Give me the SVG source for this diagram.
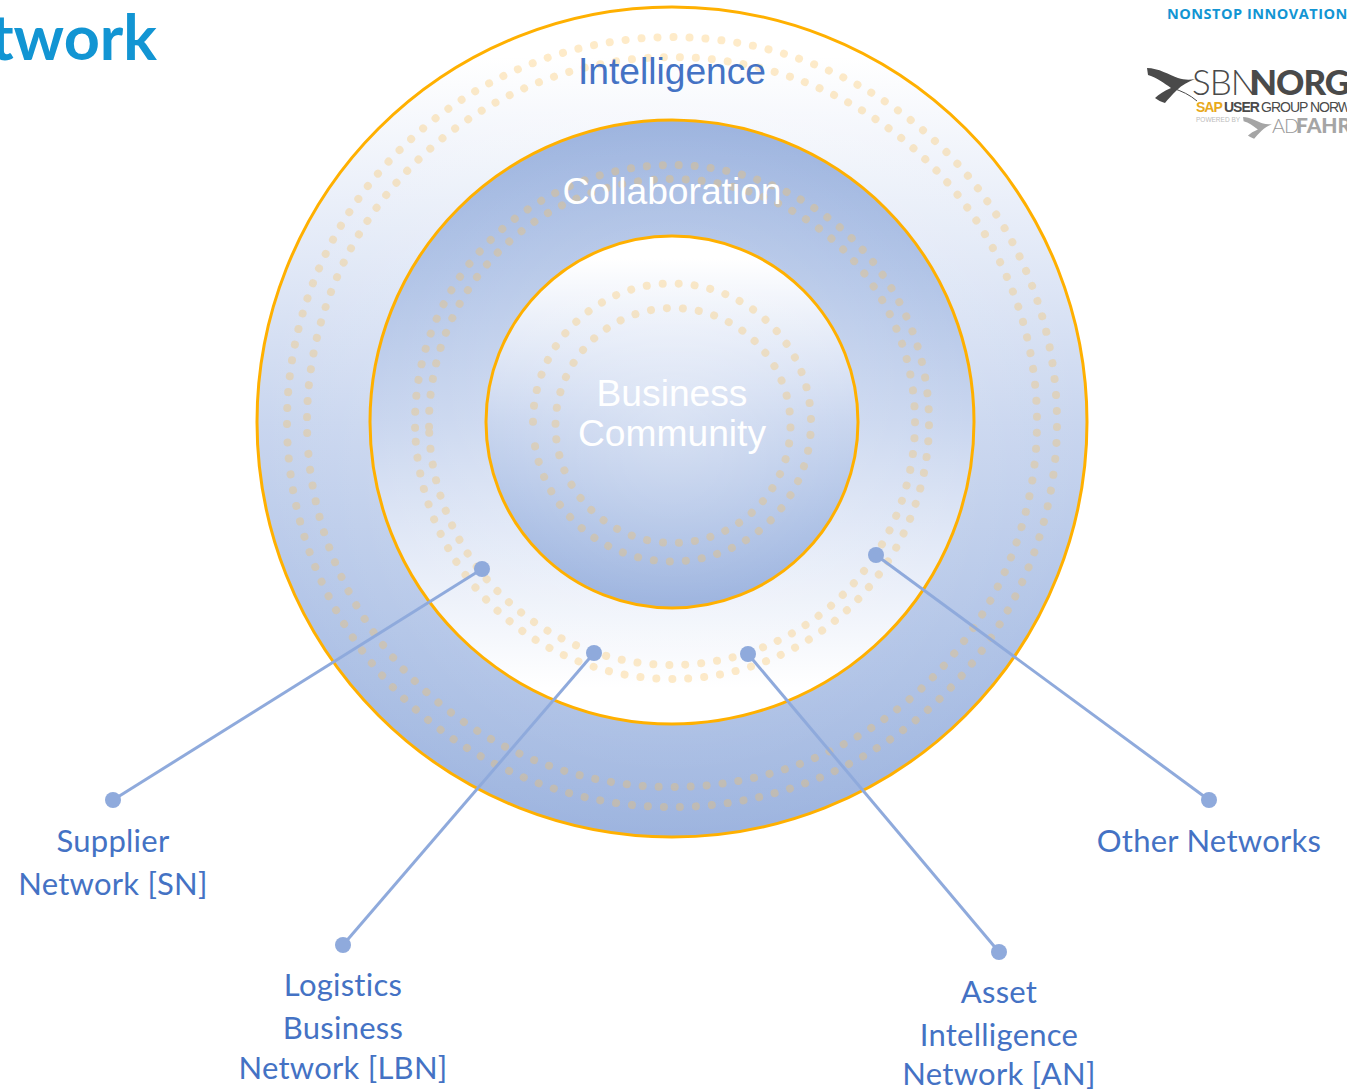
<svg xmlns="http://www.w3.org/2000/svg" xmlns:xlink="http://www.w3.org/1999/xlink" width="1347" height="1091" viewBox="0 0 1347 1091">
<style>
.ring{stroke:#ffb000;stroke-width:3}
.dots{fill:none;stroke:#fcc058;stroke-opacity:.32;stroke-width:8;stroke-linecap:round;stroke-dasharray:.01 15.99}
.conn{stroke:#8faadc;stroke-width:3;fill:none}
.pt{fill:#8faadc}
.lbl{font-family:Lato,"Liberation Sans",sans-serif;font-size:31px;fill:#4472c4;text-anchor:middle;letter-spacing:.25px}
.ar{font-family:"Liberation Sans",Arial,sans-serif;font-size:37.2px;text-anchor:middle}
.lt{font-family:Lato,sans-serif}
</style>
<defs>
<linearGradient id="down" x1="0" y1="0" x2="0" y2="1"><stop offset=".06" stop-color="#fff"/><stop offset=".3" stop-color="#e2e9f7"/><stop offset=".5" stop-color="#c9d6ef"/><stop offset=".75" stop-color="#b1c4e7"/><stop offset="1" stop-color="#9db4df"/></linearGradient>
<linearGradient id="up" x1="0" y1="1" x2="0" y2="0"><stop offset=".06" stop-color="#fff"/><stop offset=".3" stop-color="#e2e9f7"/><stop offset=".5" stop-color="#c9d6ef"/><stop offset=".75" stop-color="#b1c4e7"/><stop offset="1" stop-color="#9db4df"/></linearGradient>
<radialGradient id="glow"><stop offset="0" stop-color="#fff" stop-opacity=".3"/><stop offset="1" stop-color="#fff" stop-opacity="0"/></radialGradient>
<path id="swoosh" d="M1147 68C1158 68 1170 75 1178 78C1184 80 1190 80 1195 79C1188 82 1182 85 1177 90C1172 95 1168 99 1165 103C1161 102 1158 100 1155 98C1159 94 1164 91 1171 88C1164 83 1156 77 1148 75Z"/>
</defs>
<g id="title"><text x="157" y="60" class="lt" font-size="63" font-weight="700" fill="#1295d3" text-anchor="end">twork</text></g>
<g id="tagline"><text x="1167" y="19" font-family="Open Sans,sans-serif" font-size="14.5" font-weight="700" fill="#1295d3" letter-spacing=".5">NONSTOP INNOVATION</text></g>
<g id="logo">
<use xlink:href="#swoosh" href="#swoosh" fill="#4a4a4a"/>
<path d="M1172 88C1182 91 1190 95 1197 101" fill="none" stroke="#4a4a4a" stroke-width="1"/>
<text x="1192" y="95" class="lt" font-size="35" font-weight="300" fill="#4a4a4a" letter-spacing="-1">SBN</text>
<text x="1250" y="95" class="lt" font-size="35" font-weight="900" fill="#4a4a4a" letter-spacing="-1">NORG</text>
<text x="1196" y="112" font-family="Liberation Sans" font-size="14" font-weight="700" fill="#e8a91c" letter-spacing="-1">SAP</text>
<text x="1224" y="112" font-family="Liberation Sans" font-size="14" font-weight="700" fill="#4a4a4a" letter-spacing="-1">USER</text>
<text x="1261" y="112" font-family="Liberation Sans" font-size="14" fill="#4a4a4a" letter-spacing="-1">GROUP NORW</text>
<text x="1196" y="122" font-family="Liberation Sans" font-size="6.5" fill="#bbb">POWERED BY</text>
<use xlink:href="#swoosh" href="#swoosh" fill="#a5a5a5" transform="translate(1243 117) scale(.62) translate(-1147 -68)"/>
<text x="1272" y="133" class="lt" font-size="20" font-weight="300" fill="#999" letter-spacing="-1">AD</text>
<text x="1296" y="133" class="lt" font-size="21" font-weight="900" fill="#a5a5a5">FAHR</text>
</g>
<g id="outer-ring">
<circle cx="672" cy="422" r="415" fill="url(#down)"/>
<circle class="ring" cx="672" cy="422" r="415" fill="url(#glow)"/>
<path class="dots" d="M1057 422A385 385 0 1 1 1056.63 405.01" transform="rotate(179.7 672 422)"/>
<path class="dots" d="M1037 422A365 365 0 1 1 1036.49 402.64" transform="rotate(178.27 672 422)"/>
</g>
<g id="middle-ring">
<circle cx="672" cy="422" r="302" fill="url(#up)"/>
<circle class="ring" cx="672" cy="422" r="302" fill="url(#glow)"/>
<circle class="dots" cx="672" cy="422" r="257" transform="rotate(178.73 672 422)"/>
<circle class="dots" cx="672" cy="422" r="243" transform="rotate(178.9 672 422)"/>
</g>
<g id="inner-ring">
<circle cx="672" cy="422" r="186" fill="url(#down)"/>
<circle class="ring" cx="672" cy="422" r="186" fill="url(#glow)"/>
<path class="dots" d="M811 422.5A139 139 0 1 1 809.05 399.32" transform="rotate(180.33 672 422.5)"/>
<circle class="dots" cx="673" cy="425.5" r="117.5" style="stroke-dasharray:.01 16.04" transform="rotate(180.88 673 425.5)"/>
</g>
<g id="intelligence"><text class="ar" x="672" y="84" fill="#4472c4">Intelligence</text></g>
<g id="collaboration"><text class="ar" x="672" y="204" fill="#fff">Collaboration</text></g>
<g id="business-community"><text class="ar" x="672" y="406" fill="#fff">Business</text><text class="ar" x="672" y="446" fill="#fff">Community</text></g>
<g id="connectors">
<line class="conn" x1="482" y1="569" x2="113" y2="800"/>
<line class="conn" x1="594" y1="653" x2="343" y2="945"/>
<line class="conn" x1="748" y1="654" x2="999" y2="952"/>
<line class="conn" x1="876" y1="555" x2="1209" y2="800"/>
<circle class="pt" cx="482" cy="569" r="8"/><circle class="pt" cx="594" cy="653" r="8"/><circle class="pt" cx="748" cy="654" r="8"/><circle class="pt" cx="876" cy="555" r="8"/>
</g>
<g id="supplier-network"><circle class="pt" cx="113" cy="800" r="8"/><text class="lbl" x="113" y="852">Supplier</text><text class="lbl" x="113" y="895">Network [SN]</text></g>
<g id="logistics-network"><circle class="pt" cx="343" cy="945" r="8"/><text class="lbl" x="343" y="996">Logistics</text><text class="lbl" x="343" y="1039">Business</text><text class="lbl" x="343" y="1079">Network [LBN]</text></g>
<g id="asset-network"><circle class="pt" cx="999" cy="952" r="8"/><text class="lbl" x="999" y="1003">Asset</text><text class="lbl" x="999" y="1046">Intelligence</text><text class="lbl" x="999" y="1085">Network [AN]</text></g>
<g id="other-networks"><circle class="pt" cx="1209" cy="800" r="8"/><text class="lbl" x="1209" y="852">Other Networks</text></g>
</svg>
